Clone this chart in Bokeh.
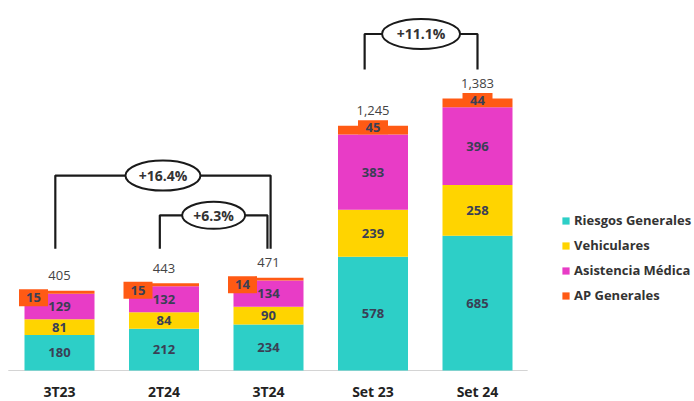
from bokeh.plotting import figure
from bokeh.models import Range1d, FixedTicker, Legend, LegendItem, ColumnDataSource
from bokeh.core.properties import value
from bokeh.embed import file_html
from bokeh.resources import INLINE

# Premiums by line of business (S/ millions)
periods = ["3T23", "2T24", "3T24", "Set 23", "Set 24"]
riesgos_generales = [180, 212, 234, 578, 685]
vehiculares = [81, 84, 90, 239, 258]
asistencia_medica = [129, 132, 134, 383, 396]
ap_generales = [15, 15, 14, 45, 44]
totals = [405, 443, 471, 1245, 1383]

series_names = ["Riesgos Generales", "Vehiculares", "Asistencia Médica", "AP Generales"]
series_colors = ["#2dcfc7", "#ffd400", "#e83cc6", "#ff5a14"]

# Growth comparisons: (from period, to period, label)
comparisons = [("3T23", "3T24", "+16.4%"), ("2T24", "3T24", "+6.3%"), ("Set 23", "Set 24", "+11.1%")]

FONT = "Open Sans"
LABEL_COLOR = "#3a3f55"

W, H = 694, 401
px_per_unit = 272 / 1383.0           # vertical scale
base_px = 370                         # pixel row of the zero line
x_step = 104.5                        # pixels between bar centres
x0 = 59

x = list(range(len(periods)))
fields = ["riesgos", "vehiculares", "asistencia", "ap"]
src = ColumnDataSource(dict(x=x, riesgos=riesgos_generales, vehiculares=vehiculares,
                            asistencia=asistencia_medica, ap=ap_generales, total=totals))

p = figure(width=W, height=H, output_backend="svg", toolbar_location=None,
           x_range=Range1d(-x0 / x_step, (W - x0) / x_step),
           y_range=Range1d(-(H - base_px) / px_per_unit, base_px / px_per_unit),
           min_border_left=0, min_border_right=0, min_border_top=0, min_border_bottom=0)
p.outline_line_color = None
p.background_fill_color = "white"
p.grid.visible = False
p.yaxis.visible = False

ax = p.xaxis[0]
ax.fixed_location = 0
ax.ticker = FixedTicker(ticks=x)
ax.major_label_overrides = {i: lab for i, lab in enumerate(periods)}
ax.axis_line_color = None
ax.major_tick_line_color = None
ax.major_tick_out = 0
ax.major_tick_in = 0
ax.minor_tick_line_color = None
ax.major_label_standoff = 11
ax.major_label_text_font = FONT
ax.major_label_text_font_style = "bold"
ax.major_label_text_font_size = "14px"
ax.major_label_text_color = "#222222"

# baseline
p.segment(x0=[-0.49], y0=[0], x1=[len(periods) - 0.52], y1=[0], line_color="#d4d4d4", line_width=1.2)

bar_w = 70 / x_step
stack = p.vbar_stack(fields, x="x", width=bar_w, color=series_colors, source=src, line_width=0)

# segment values
bottoms = [0] * len(periods)
seg_values = [riesgos_generales, vehiculares, asistencia_medica]
for vals in seg_values:
    mids = [b + v / 2 for b, v in zip(bottoms, vals)]
    p.text(x=x, y=mids, text=[str(v) for v in vals], text_align="center", text_baseline="middle",
           text_font=value(FONT), text_font_style="bold", text_font_size="13px", text_color=LABEL_COLOR)
    bottoms = [b + v for b, v in zip(bottoms, vals)]

# AP Generales tags: offset to the left on short bars, centred on the tall ones
tops = [b + v for b, v in zip(bottoms, ap_generales)]
tag_x, tag_y, tag_w, tag_h = [], [], [], []
for i, t in enumerate(tops):
    if t < 1000:
        tag_x.append(i - 26 / x_step)
        tag_y.append(t - 7 / px_per_unit)
        tag_w.append(29)
        tag_h.append(17)
    else:
        tag_x.append(i)
        tag_y.append(t - 1.5 / px_per_unit)
        tag_w.append(30)
        tag_h.append(14)
p.rect(x=tag_x, y=tag_y, width=tag_w, height=tag_h, width_units="screen", height_units="screen",
       fill_color=series_colors[3], line_color=None)
p.text(x=tag_x, y=tag_y, text=[str(v) for v in ap_generales], text_align="center", text_baseline="middle",
       text_font=value(FONT), text_font_style="bold", text_font_size="13px", text_color=LABEL_COLOR)

# totals above bars
p.text(x=x, y=totals, y_offset=-15, text=[f"{t:,}" for t in totals], text_align="center",
       text_baseline="middle", text_font=value(FONT), text_font_size="13px", text_color="#444444")

# comparison brackets
idx = {per: i for i, per in enumerate(periods)}
leg_dx = {"+16.4%": (-0.04, 0.02), "+6.3%": (-0.04, -0.01), "+11.1%": (-0.08, 0.0)}
rise = {"+16.4%": 372, "+6.3%": 170, "+11.1%": 180}
ell = {"+16.4%": (75, 30), "+6.3%": (63, 27), "+11.1%": (78, 30)}
for a, b, lab in comparisons:
    ia, ib = idx[a], idx[b]
    group = [i for i in range(len(periods)) if (i < 3) == (ia < 3)]
    base = max(totals[i] for i in group) + 148
    top = base + rise[lab]
    xa = ia + leg_dx[lab][0]
    xb = ib + leg_dx[lab][1]
    p.line(x=[xa, xa, xb, xb], y=[base, top, top, base], line_color="#1a1a1a", line_width=2.2)
    xm = (xa + xb) / 2
    w, h = ell[lab]
    p.ellipse(x=[xm], y=[top], width=[w], height=[h], width_units="screen", height_units="screen",
              fill_color="white", line_color="#1a1a1a", line_width=2)
    p.text(x=[xm], y=[top], text=[lab], text_align="center", text_baseline="middle",
           text_font=value(FONT), text_font_style="bold", text_font_size="14px", text_color="#333333")

# legend: location is the bottom-left corner in frame pixels
legend = Legend(items=[LegendItem(label=n, renderers=[r]) for n, r in zip(series_names, stack)],
                location=(561, H - 305), orientation="vertical",
                glyph_width=9, glyph_height=9, label_standoff=4, label_height=20, spacing=5,
                padding=0, margin=0, border_line_color=None, background_fill_alpha=0,
                label_text_font=FONT, label_text_font_style="bold", label_text_font_size="13px",
                label_text_color="#333333")
p.add_layout(legend)

open("out.html", "w").write(file_html(p, INLINE))
